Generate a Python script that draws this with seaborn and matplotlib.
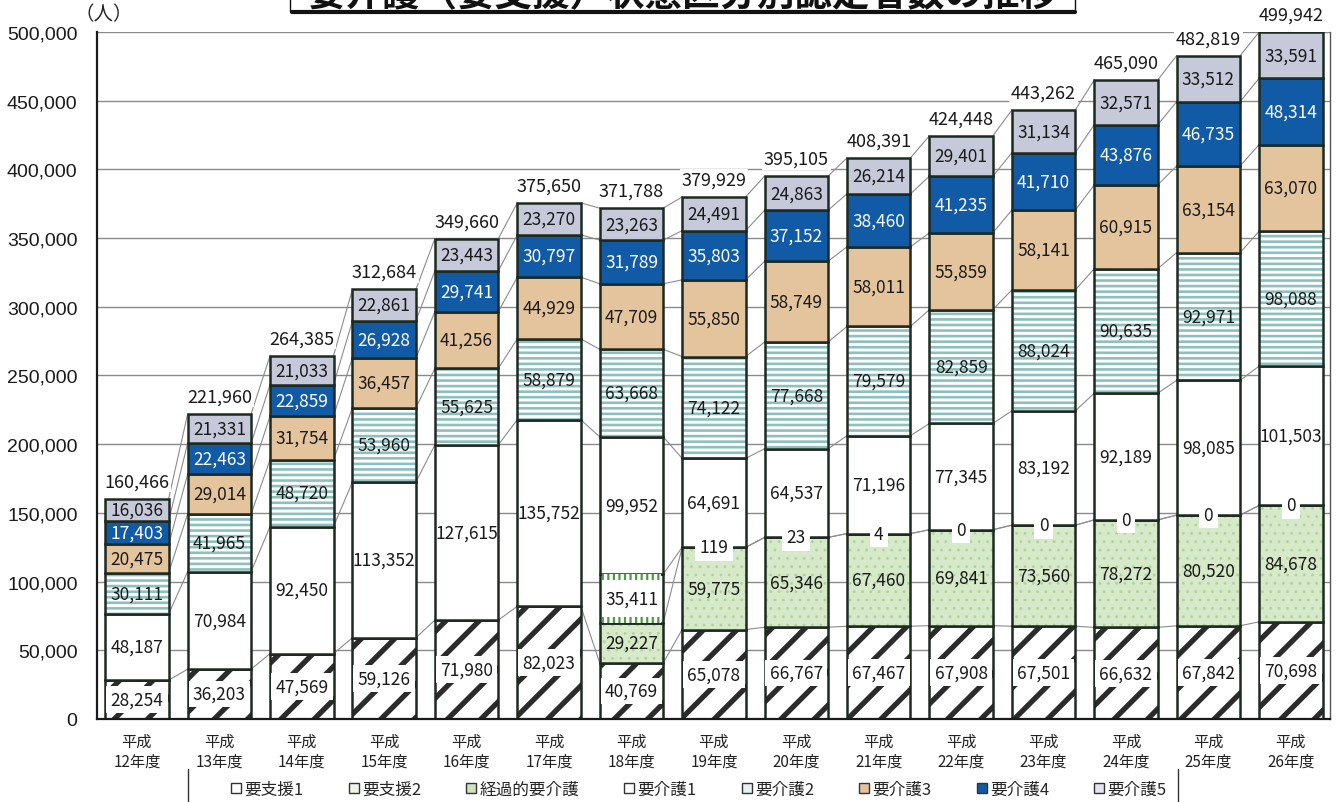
import numpy as np
import pandas as pd
import matplotlib.pyplot as plt
import seaborn as sns
from matplotlib.lines import Line2D
from matplotlib.patches import Rectangle

sns.set_theme(style='white')
plt.rcParams['font.family'] = ['Noto Sans CJK JP', 'DejaVu Sans']

# 年度
years = ['平成\n12年度', '平成\n13年度', '平成\n14年度', '平成\n15年度', '平成\n16年度',
         '平成\n17年度', '平成\n18年度', '平成\n19年度', '平成\n20年度', '平成\n21年度',
         '平成\n22年度', '平成\n23年度', '平成\n24年度', '平成\n25年度', '平成\n26年度']

# 区分別認定者数 (H12-H17 の要支援は要支援1 の欄に入れる)
shien1 = [28254, 36203, 47569, 59126, 71980, 82023, 40769, 65078, 66767, 67467,
          67908, 67501, 66632, 67842, 70698]
shien2 = [None, None, None, None, None, None, 29227, 59775, 65346, 67460,
          69841, 73560, 78272, 80520, 84678]
keika = [None, None, None, None, None, None, 35411, 119, 23, 4, 0, 0, 0, 0, 0]
kaigo1 = [48187, 70984, 92450, 113352, 127615, 135752, 99952, 64691, 64537, 71196,
          77345, 83192, 92189, 98085, 101503]
kaigo2 = [30111, 41965, 48720, 53960, 55625, 58879, 63668, 74122, 77668, 79579,
          82859, 88024, 90635, 92971, 98088]
kaigo3 = [20475, 29014, 31754, 36457, 41256, 44929, 47709, 55850, 58749, 58011,
          55859, 58141, 60915, 63154, 63070]
kaigo4 = [17403, 22463, 22859, 26928, 29741, 30797, 31789, 35803, 37152, 38460,
          41235, 41710, 43876, 46735, 48314]
kaigo5 = [16036, 21331, 21033, 22861, 23443, 23270, 23263, 24491, 24863, 26214,
          29401, 31134, 32571, 33512, 33591]
totals = [160466, 221960, 264385, 312684, 349660, 375650, 371788, 379929, 395105,
          408391, 424448, 443262, 465090, 482819, 499942]

cat_names = ['要支援1', '要支援2', '経過的要介護', '要介護1', '要介護2', '要介護3', '要介護4', '要介護5']
df = pd.DataFrame({'year': years, '要支援1': shien1, '要支援2': shien2, '経過的要介護': keika,
                   '要介護1': kaigo1, '要介護2': kaigo2, '要介護3': kaigo3,
                   '要介護4': kaigo4, '要介護5': kaigo5}).astype({c: float for c in cat_names})

# 見た目 (面の色, 模様, 模様の色, 模様の線幅)
styles = {
    '要支援1': ('white', '/', '#2b2b2b', 3.8),
    '要支援2': ('#d6e9c8', '..', '#b2d29c', 0.8),
    '経過的要介護': ('white', None, None, 0),
    '要介護1': ('white', None, None, 0),
    '要介護2': ('white', '---', '#8cc0bf', 1.9),
    '要介護3': ('#e4c49d', None, None, 0),
    '要介護4': ('#115ba6', None, None, 0),
    '要介護5': ('#c6c9d9', None, None, 0),
}
legend_colors = {'要支援1': 'white', '要支援2': '#eef5e6', '経過的要介護': '#cfe3bf',
                 '要介護1': 'white', '要介護2': '#e6f1f1', '要介護3': '#e4c49d',
                 '要介護4': '#115ba6', '要介護5': '#e3e4ec'}
edge = '#1c2a21'
bar_w = 0.77

fig = plt.figure(figsize=(13.43, 8.03), dpi=100)
ax = fig.add_axes([0.0722, 0.1034, 0.9178, 0.8555])


def hatch_width(patches, lw):
    for p in patches:
        if hasattr(p, 'set_hatch_linewidth'):
            p.set_hatch_linewidth(lw)


x = np.arange(len(years))
bottom = np.zeros(len(years))
tops = {}
for name in cat_names:
    vals = df[name].fillna(0).values
    face, hatch, hcol, hlw = styles[name]
    n0 = len(ax.patches)
    if hatch:
        sns.barplot(data=df.assign(v=vals), x='year', y='v', order=years, bottom=bottom,
                    width=bar_w, saturation=1, color=face, facecolor=face, edgecolor=hcol,
                    linewidth=0, hatch=hatch, ax=ax)
        hatch_width(ax.patches[n0:], hlw)
    else:
        sns.barplot(data=df.assign(v=vals), x='year', y='v', order=years, bottom=bottom,
                    width=bar_w, saturation=1, color=face, edgecolor=face,
                    linewidth=0, ax=ax)
    # 枠線
    sns.barplot(data=df.assign(v=vals), x='year', y='v', order=years, bottom=bottom,
                width=bar_w, saturation=1, fill=False, color=edge, linewidth=1.8, ax=ax)

    # 値ラベル
    for i, v in enumerate(df[name].values):
        if np.isnan(v):
            continue
        kw = dict(ha='center', va='center', fontsize=12.5, color='#1a1a1a', zorder=5)
        if name == '要介護4':
            kw['color'] = 'white'
        if name == '要支援1' or v < 5000:
            kw['bbox'] = dict(boxstyle='square,pad=0.25', fc='white', ec='none')
        ax.text(i, bottom[i] + v / 2, f'{int(v):,}', **kw)

    tops[name] = np.where(df[name].isna(), np.nan, bottom + vals)
    bottom = bottom + vals

# 経過的要介護 (H18) の上下の縦じま
kk = df['経過的要介護'].fillna(0).values
sub = df.assign(v=np.where(kk > 5000, 4000, 0))
for b in (np.nan_to_num(tops['要支援2']), np.nan_to_num(tops['経過的要介護']) - sub['v'].values):
    n0 = len(ax.patches)
    sns.barplot(data=sub, x='year', y='v', order=years, bottom=b,
                width=bar_w * 0.92, saturation=1, color='white', edgecolor='#4f9a45',
                linewidth=0, hatch='|||', ax=ax)
    hatch_width(ax.patches[n0:], 1.6)

# 棒の間をつなぐ線
for name in cat_names:
    t = tops[name]
    for i in range(len(years) - 1):
        if np.isnan(t[i]) or np.isnan(t[i + 1]):
            continue
        ax.plot([i + bar_w / 2, i + 1 - bar_w / 2], [t[i], t[i + 1]],
                color='#8c8c8c', lw=0.8, zorder=0.8)

# 合計
for i, t in enumerate(totals):
    ax.annotate(f'{t:,}', (i, t), xytext=(0, 6), textcoords='offset points',
                ha='center', va='bottom', fontsize=13, color='#1a1a1a',
                bbox=dict(boxstyle='square,pad=0.1', fc='white', ec='none'),
                annotation_clip=False, zorder=6)

ax.set_xlim(-0.485, 14.47)
ax.set_ylim(0, 500000)
ax.set_yticks(np.arange(0, 500001, 50000))
ax.set_yticklabels([f'{v:,}' for v in range(0, 500001, 50000)],
                   fontsize=14, family='Liberation Sans', color='#1a1a1a')
ax.set_xticks(x)
ax.set_xticklabels(years, fontsize=11, linespacing=1.2, color='#222222')
ax.tick_params(axis='both', length=0)
ax.tick_params(axis='y', pad=14)
ax.tick_params(axis='x', pad=10)
ax.set_xlabel('')
ax.set_ylabel('')
ax.yaxis.grid(True, color='#8a8a8a', lw=1)
ax.set_axisbelow(True)
ax.spines['top'].set_visible(False)
ax.spines['left'].set_color('#1a1a1a')
ax.spines['left'].set_linewidth(1.6)
ax.spines['bottom'].set_color('#1a1a1a')
ax.spines['bottom'].set_linewidth(1.6)
ax.spines['right'].set_color('#555555')
ax.spines['right'].set_linewidth(1.0)

ax.annotate('（人）', (0, 1), xytext=(-16, 6), textcoords='offset points',
            xycoords='axes fraction', ha='left', va='bottom', fontsize=14,
            annotation_clip=False)

# タイトル (上が切れている)
fig.add_artist(Rectangle((290 / 1343, 1 - 13 / 803), 785 / 1343, 0.05,
                         transform=fig.transFigure, fc='white', ec='#111111', lw=1.0))
fig.add_artist(Line2D([292 / 1343, 1075 / 1343], [1 - 13 / 803] * 2,
                      transform=fig.transFigure, color='#111111', lw=3))
fig.text(682 / 1343, 1 - 6 / 803, '要介護（要支援）状態区分別認定者数の推移',
         ha='center', va='baseline', fontsize=27, fontweight='bold', color='#111111')

# 凡例
handles = [Line2D([], [], marker='s', ls='', markersize=7, mfc=legend_colors[n],
                  mec='#333333', mew=1.0) for n in cat_names]
fig.legend(handles, cat_names, loc='center', bbox_to_anchor=(698 / 1343, 1 - 790 / 803),
           ncol=8, frameon=False, fontsize=12, handletextpad=0.1, handlelength=0.8,
           columnspacing=2.6)
for xp in (188, 1178):
    fig.add_artist(Line2D([xp / 1343] * 2, [0, 1 - 770 / 803], transform=fig.transFigure,
                          color='#333333', lw=1))

fig.savefig('out.png', dpi=100)
